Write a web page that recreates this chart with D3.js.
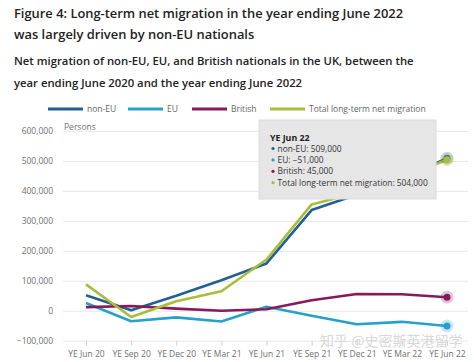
<!DOCTYPE html>
<html>
<head>
<meta charset="utf-8">
<script src="https://cdn.jsdelivr.net/npm/d3@7"></script>
<style>
  body { margin: 0; background: #fff; }
  svg { font-family: "Open Sans", sans-serif; display: block; }
</style>
</head>
<body>
<svg id="chart" width="474" height="362"></svg>
<script>
var categories = ["YE Jun 20", "YE Sep 20", "YE Dec 20", "YE Mar 21", "YE Jun 21",
                  "YE Sep 21", "YE Dec 21", "YE Mar 22", "YE Jun 22"];
var nonEU   = [52000, 2000, 50000, 102000, 158000, 336000, 387000, 440000, 509000];
var eu      = [26000, -35000, -22000, -36000, 13000, -17000, -45000, -37000, -51000];
var british = [12000, 16000, 7000, 0, 5000, 35000, 56000, 55000, 45000];
var total   = [88000, -21000, 32000, 65000, 171000, 355000, 394000, 445000, 504000];
var yTicks  = [-100000, 0, 100000, 200000, 300000, 400000, 500000, 600000];

var series = [
  {name: "non-EU", values: nonEU, color: "#206095"},
  {name: "EU", values: eu, color: "#27a0cc"},
  {name: "British", values: british, color: "#871a5b"},
  {name: "Total long-term net migration", values: total, color: "#a8bd3a"}
];

var svg = d3.select("#chart");
var fmt = d3.format(",");

/* Titles */
var head = svg.append("g").attr("fill", "#222");
head.append("text").attr("x", 14).attr("y", 17.5)
  .attr("font-size", 12.9).attr("font-weight", 600)
  .text("Figure 4: Long-term net migration in the year ending June 2022");
head.append("text").attr("x", 14).attr("y", 38.5)
  .attr("font-size", 12.9).attr("font-weight", 600)
  .text("was largely driven by non-EU nationals");
head.append("text").attr("x", 14).attr("y", 65)
  .attr("font-size", 11.3).attr("font-weight", 600)
  .text("Net migration of non-EU, EU, and British nationals in the UK, between the");
head.append("text").attr("x", 14).attr("y", 86.5)
  .attr("font-size", 11.3).attr("font-weight", 600)
  .text("year ending June 2020 and the year ending June 2022");

/* Legend */
var legendX = [48, 128, 192, 270];
var legend = svg.append("g").attr("transform", "translate(0,109)");
series.forEach(function(s, i) {
  var g = legend.append("g").attr("transform", "translate(" + legendX[i] + ",0)");
  g.append("line").attr("x1", 0).attr("x2", 35).attr("y1", 0).attr("y2", 0)
    .attr("stroke", s.color).attr("stroke-width", 3);
  g.append("text").attr("x", 39).attr("y", 3)
    .attr("font-size", 8.5).attr("fill", "#666").text(s.name);
});

/* Scales */
var x = d3.scalePoint().domain(categories).range([86, 447]);
var y = d3.scaleLinear().domain([-100000, 600000]).range([340.7, 131]);

/* Grid + y labels */
var yAxis = svg.append("g").attr("transform", "translate(63,0)")
  .call(d3.axisLeft(y).tickValues(yTicks).tickSize(-405).tickPadding(10).tickFormat(fmt));
yAxis.select(".domain").remove();
yAxis.selectAll(".tick line").attr("stroke", "#e8e8e8");
yAxis.selectAll(".tick text").attr("fill", "#707070").attr("font-size", 8.5)
  .attr("font-family", "Open Sans, sans-serif");

svg.append("text").attr("x", 64).attr("y", 129.5)
  .attr("font-size", 8.5).attr("fill", "#707070").text("Persons");

/* X axis */
var xAxis = svg.append("g").attr("transform", "translate(0,340.7)")
  .call(d3.axisBottom(x).tickSize(5).tickPadding(5));
xAxis.select(".domain").remove();
xAxis.selectAll(".tick line").attr("stroke", "#d0d0d0");
xAxis.selectAll(".tick text").attr("fill", "#707070").attr("font-size", 8.5)
  .attr("font-family", "Open Sans, sans-serif");

/* Lines */
var line = d3.line()
  .x(function(d, i) { return x(categories[i]); })
  .y(function(d) { return y(d); });

svg.append("g").selectAll("path")
  .data(series)
  .join("path")
  .attr("d", function(s) { return line(s.values); })
  .attr("fill", "none")
  .attr("stroke", function(s) { return s.color; })
  .attr("stroke-width", 2.6)
  .attr("stroke-linejoin", "round");

/* Highlighted last points */
var last = categories.length - 1;
var dots = svg.append("g").selectAll("g")
  .data(series)
  .join("g")
  .attr("transform", function(s) {
    return "translate(" + x(categories[last]) + "," + y(s.values[last]) + ")";
  });
dots.append("circle").attr("r", 6.5)
  .attr("fill", function(s) { return s.color; }).attr("fill-opacity", 0.25);
dots.append("circle").attr("r", 3.5)
  .attr("fill", function(s) { return s.color; });

/* Tooltip */
var tip = svg.append("g").attr("transform", "translate(259,120)");
tip.append("rect").attr("width", 177).attr("height", 79)
  .attr("fill", "#e6e6e6").attr("stroke", "#dcdcdc");
tip.append("text").attr("x", 11).attr("y", 21)
  .attr("font-size", 8.8).attr("font-weight", 700).attr("fill", "#222")
  .text(categories[last]);
series.forEach(function(s, i) {
  var yy = 31.5 + i * 11.4;
  tip.append("circle").attr("cx", 14).attr("cy", yy - 3).attr("r", 1.6).attr("fill", s.color);
  tip.append("text").attr("x", 18.5).attr("y", yy)
    .attr("font-size", 8.4).attr("fill", "#333")
    .text(s.name + ": " + fmt(s.values[last]));
});

/* Watermark */
svg.append("text").attr("x", 320).attr("y", 346)
  .attr("font-size", 14).attr("fill", "#d8d8d8")
  .attr("font-family", "Noto Sans CJK SC")
  .text("知乎 @史密斯英港留学");
</script>
</body>
</html>
